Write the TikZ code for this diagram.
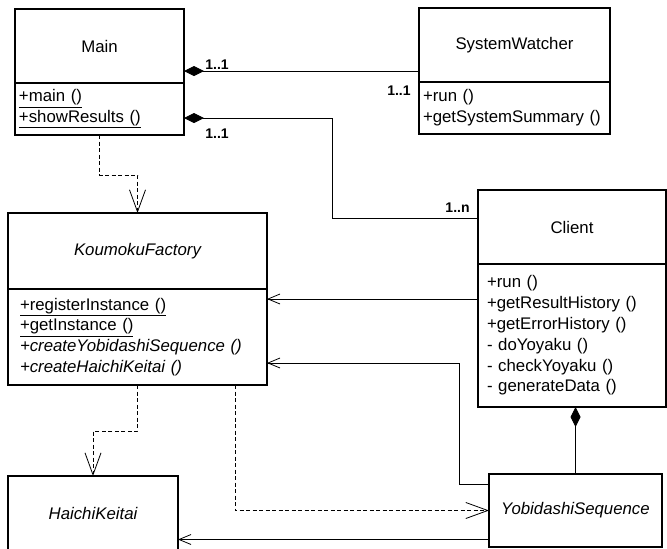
\documentclass[tikz,border=0pt]{standalone}
\usepackage{fontspec}
\setmainfont{Liberation Sans}
\usetikzlibrary{arrows.meta,positioning}

\tikzset{
  classbox/.style={draw, line width=1.6pt, inner sep=0pt, outer sep=0pt,
    font=\fontsize{16.8}{20.8}\selectfont},
  opsbox/.style={classbox, align=left, inner xsep=4pt},
  dep/.style={line width=0.8pt, dash pattern=on 4pt off 2.5pt,
    -{Straight Barb[length=22pt,width=16pt]}},
  nav/.style={line width=0.8pt, -{Straight Barb[length=12pt,width=10pt]}},
  comp/.style={line width=0.8pt, {Diamond[length=20pt,width=10pt]}-},
  mult/.style={font=\bfseries\fontsize{14}{14}\selectfont, inner sep=2pt}
}

\begin{document}
\begin{tikzpicture}[x=1pt, y=-1pt]
  \useasboundingbox (0,0) rectangle (667,549);

  % classes
  \node[classbox, minimum width=169pt, minimum height=74pt, anchor=north west] (main) at (15,9) {Main};
  \node[opsbox, text width=161pt, minimum height=52pt, below=0pt of main] (mainops)
    {\underline{+main ()}\\\underline{+showResults ()}};

  \node[classbox, minimum width=191pt, minimum height=74pt, anchor=north west] (sw) at (419,8) {SystemWatcher};
  \node[opsbox, text width=183pt, minimum height=52pt, below=0pt of sw] (swops)
    {+run ()\\+getSystemSummary ()};

  \node[classbox, minimum width=259pt, minimum height=76pt, anchor=north west,
    font=\fontsize{16.8}{20.8}\selectfont\itshape] (kf) at (8,213) {KoumokuFactory};
  \node[opsbox, inner xsep=12pt, text width=235pt, minimum height=96pt, below=0pt of kf] (kfops)
    {\underline{+registerInstance ()}\\\underline{+getInstance ()}\\
     \textit{+createYobidashiSequence ()}\\\textit{+createHaichiKeitai ()}};

  \node[classbox, minimum width=188pt, minimum height=74pt, anchor=north west] (client) at (478,190) {Client};
  \node[opsbox, inner xsep=9pt, text width=170pt, minimum height=143pt, below=0pt of client] (clientops)
    {+run ()\\+getResultHistory ()\\+getErrorHistory ()\\- doYoyaku ()\\- checkYoyaku ()\\- generateData ()};

  \node[classbox, minimum width=170pt, minimum height=74pt, anchor=north west,
    font=\fontsize{16.8}{20.8}\selectfont\itshape] (haichi) at (8,476) {HaichiKeitai};
  \node[classbox, minimum width=173pt, minimum height=73pt, anchor=north west,
    font=\fontsize{16.8}{20.8}\selectfont\itshape] (yobi) at (489,474) {YobidashiSequence};

  % associations
  \draw[comp] ([yshift=12pt]main.south east)
    -- node[mult, at start, anchor=base west, xshift=19pt, yshift=2pt] {1..1}
       node[mult, at end, anchor=north east, xshift=-6pt, yshift=-12pt] {1..1}
    ([yshift=12pt]main.south east -| sw.west);
  \draw[comp] ([yshift=-35pt]mainops.north east)
    -- node[mult, at start, anchor=north west, xshift=19pt, yshift=-8pt] {1..1} ++(148,0)
    |- node[mult, at end, anchor=south east, xshift=-6pt, yshift=3pt] {1..n}
    ([yshift=-28pt]client.north west);
  \draw[comp] (clientops.south -| yobi.north) -- (yobi.north);

  % navigation
  \draw[nav] ([yshift=-35pt]clientops.north west) -- ([yshift=-35pt]clientops.north west -| kfops.east);
  \draw[nav] ([yshift=-10pt]yobi.north west) -- ++(-30,0) |- ([yshift=-74pt]kfops.north east);
  \draw[nav] ([yshift=-29pt]yobi.west) -- ([yshift=-29pt]yobi.west -| haichi.east);

  % dependencies
  \draw[dep] (mainops.south) -- ++(0,40) -| (kf.north);
  \draw[dep] (kfops.south) -- ++(0,46) -| (haichi.north);
  \draw[dep] ([xshift=97.5pt]kfops.south) |- (yobi.west);
\end{tikzpicture}
\end{document}
